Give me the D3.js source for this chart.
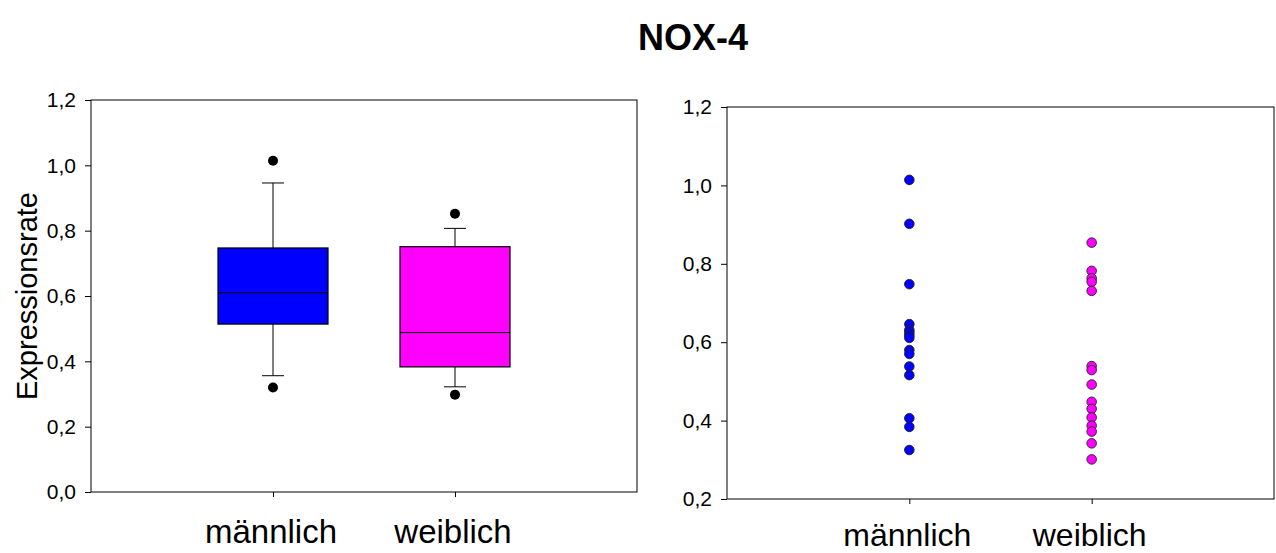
<!DOCTYPE html>
<html>
<head>
<meta charset="utf-8">
<script src="https://cdn.jsdelivr.net/npm/d3@7/dist/d3.min.js"></script>
<style>
  html, body { margin: 0; padding: 0; background: #fff; }
  svg { display: block; font-family: "Liberation Sans", Arial, sans-serif; }
</style>
</head>
<body>
<svg id="chart" width="1276" height="553"></svg>
<script>
// Groups
const categories = ["männlich", "weiblich"];
const colors = ["#0000ff", "#ff00ff"];

// Box plot summary per group
const boxQ1 = [0.514, 0.383];
const boxMedian = [0.610, 0.488];
const boxQ3 = [0.747, 0.751];
const whiskerLow = [0.356, 0.322];
const whiskerHigh = [0.946, 0.807];
const outlierLow = [0.320, 0.298];
const outlierHigh = [1.014, 0.852];

// Individual measurements per group
const valuesMale = [1.014, 0.902, 0.748, 0.646, 0.631, 0.625, 0.618, 0.611, 0.580, 0.570, 0.538, 0.516, 0.406, 0.384, 0.325];
const valuesFemale = [0.854, 0.782, 0.763, 0.754, 0.731, 0.539, 0.529, 0.492, 0.448, 0.430, 0.408, 0.387, 0.372, 0.342, 0.301];

// Axis ticks
const leftTicks = [0.0, 0.2, 0.4, 0.6, 0.8, 1.0, 1.2];
const rightTicks = [0.2, 0.4, 0.6, 0.8, 1.0, 1.2];

const svg = d3.select("#chart");
const fmt = v => d3.format(".1f")(v).replace(".", ",");

// Title
svg.append("text")
  .attr("x", 693).attr("y", 50)
  .attr("text-anchor", "middle")
  .attr("font-size", 36).attr("font-weight", "bold")
  .text("NOX-4");

function frame(g, x, y, ticks, labelY, labelSize) {
  const [x0, x1] = x.range();
  const [y0, y1] = y.range();
  // Surrounding frame
  g.append("rect")
    .attr("x", x0).attr("y", y1)
    .attr("width", x1 - x0).attr("height", y0 - y1)
    .attr("fill", "none").attr("stroke", "#000").attr("stroke-width", 1);

  const yAxis = g.append("g")
    .attr("transform", `translate(${x0},0)`)
    .call(d3.axisLeft(y).tickValues(ticks).tickFormat(fmt).tickSize(6).tickPadding(9));
  yAxis.select(".domain").remove();
  yAxis.selectAll("text").attr("font-size", 21).attr("fill", "#000");

  const xAxis = g.append("g")
    .attr("transform", `translate(0,${y0})`)
    .call(d3.axisBottom(x).tickValues([1, 2]).tickFormat(() => "").tickSize(5));
  xAxis.select(".domain").remove();

  g.selectAll(".cat")
    .data(categories)
    .join("text")
    .attr("class", "cat")
    .attr("x", (d, i) => x(i + 1) - 2)
    .attr("y", labelY)
    .attr("text-anchor", "middle")
    .attr("font-size", labelSize)
    .text(d => d);
}

// Left panel: box plots
const xL = d3.scaleLinear().domain([0, 3]).range([91, 637]);
const yL = d3.scaleLinear().domain([0, 1.2]).range([492, 100]);
const gL = svg.append("g");
frame(gL, xL, yL, leftTicks, 543, 33);

svg.append("text")
  .attr("transform", `translate(37,${yL(0.6)}) rotate(-90)`)
  .attr("text-anchor", "middle")
  .attr("font-size", 29)
  .text("Expressionsrate");

const boxW = 110, capW = 22;
categories.forEach((c, i) => {
  const cx = xL(i + 1);
  const b = gL.append("g");
  // whiskers
  b.append("line").attr("x1", cx).attr("x2", cx)
    .attr("y1", yL(boxQ3[i])).attr("y2", yL(whiskerHigh[i]))
    .attr("stroke", "#000");
  b.append("line").attr("x1", cx).attr("x2", cx)
    .attr("y1", yL(boxQ1[i])).attr("y2", yL(whiskerLow[i]))
    .attr("stroke", "#000");
  [whiskerHigh[i], whiskerLow[i]].forEach(v => {
    b.append("line").attr("x1", cx - capW / 2).attr("x2", cx + capW / 2)
      .attr("y1", yL(v)).attr("y2", yL(v))
      .attr("stroke", "#000");
  });
  // box
  b.append("rect")
    .attr("x", cx - boxW / 2).attr("y", yL(boxQ3[i]))
    .attr("width", boxW).attr("height", yL(boxQ1[i]) - yL(boxQ3[i]))
    .attr("fill", colors[i]).attr("stroke", "#000").attr("stroke-width", 1.2);
  // median
  b.append("line").attr("x1", cx - boxW / 2).attr("x2", cx + boxW / 2)
    .attr("y1", yL(boxMedian[i])).attr("y2", yL(boxMedian[i]))
    .attr("stroke", "#000");
  // outliers
  [outlierHigh[i], outlierLow[i]].forEach(v => {
    b.append("circle").attr("cx", cx).attr("cy", yL(v)).attr("r", 5).attr("fill", "#000");
  });
});

// Right panel: individual points
const xR = d3.scaleLinear().domain([0, 3]).range([727, 1274]);
const yR = d3.scaleLinear().domain([0.2, 1.2]).range([499, 107]);
const gR = svg.append("g");
frame(gR, xR, yR, rightTicks, 546, 32);

[valuesMale, valuesFemale].forEach((vals, i) => {
  gR.selectAll(null)
    .data(vals)
    .join("circle")
    .attr("cx", xR(i + 1))
    .attr("cy", d => yR(d))
    .attr("r", 4.8)
    .attr("fill", colors[i])
    .attr("stroke", "#222")
    .attr("stroke-width", 0.9);
});
</script>
</body>
</html>
